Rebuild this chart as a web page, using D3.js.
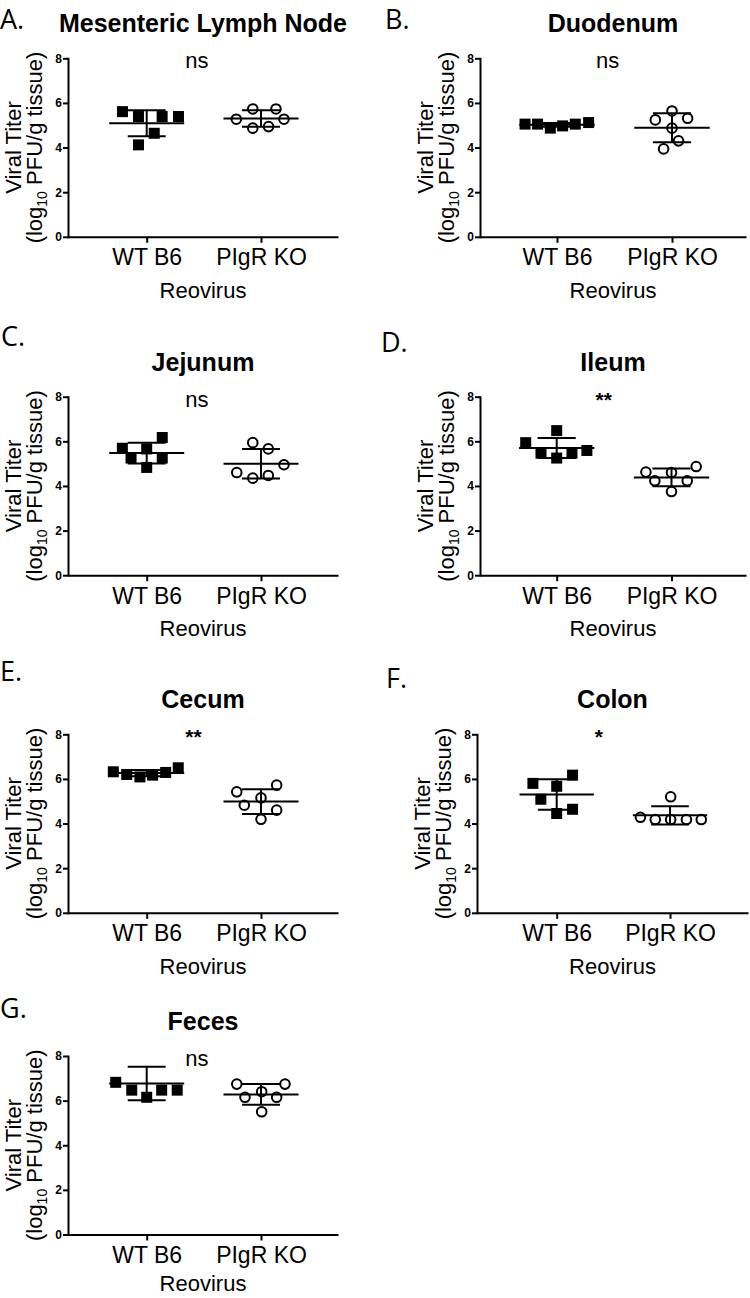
<!DOCTYPE html>
<html><head><meta charset="utf-8">
<script src="https://cdn.jsdelivr.net/npm/d3@7"></script>
<style>
body{margin:0;background:#fff}
svg{display:block}
</style>
</head><body><svg id="chart" width="750" height="1298"></svg>
<script>
// ---------------- DATA ----------------
const categories = ["WT B6", "PIgR KO"];
const panelLetters = ["A.", "B.", "C.", "D.", "E.", "F.", "G."];
const panelTitles = ["Mesenteric Lymph Node", "Duodenum", "Jejunum", "Ileum", "Cecum", "Colon", "Feces"];
const significance = ["ns", "ns", "ns", "**", "**", "*", "ns"];
const yTicks = [0, 2, 4, 6, 8];
const yTitleLine1 = "Viral Titer";
const yTitleLine2 = ["(log", "10", " PFU/g tissue)"];
const xTitle = "Reovirus";

// log10 PFU/g tissue, per mouse (left-to-right order as plotted)
const mlnWT = [5.61, 5.39, 4.12, 4.64, 5.39, 5.39];
const mlnKO = [5.27, 5.73, 4.87, 4.94, 5.73, 5.27];
const duoWT = [5.05, 5.05, 4.87, 4.97, 5.05, 5.12];
const duoKO = [5.24, 3.94, 5.64, 4.87, 4.30, 5.31];
const jejWT = [5.69, 5.25, 5.66, 4.83, 6.17, 5.25];
const jejKO = [4.60, 5.94, 4.35, 5.66, 4.47, 4.95];
const ileWT = [5.94, 5.47, 6.48, 5.25, 5.47, 5.59];
const ileKO = [4.62, 4.23, 4.60, 3.75, 4.23, 4.87];
const cecWT = [6.32, 6.20, 6.09, 6.17, 6.29, 6.50];
const cecKO = [5.42, 4.82, 5.15, 4.19, 5.72, 4.60];
const colWT = [5.80, 5.09, 5.67, 4.45, 6.17, 4.64];
const colKO = [4.28, 4.18, 5.20, 4.18, 4.18, 4.18];
const fecWT = [6.82, 6.47, 6.15, 6.47, 6.47, 8.24]; // last point lies above the axis maximum (not shown)
const fecKO = [6.74, 6.15, 6.40, 5.50, 6.15, 6.74];

// horizontal scatter of each dot within its column (category units)
const mlnWTSpread = [-0.212, -0.072, -0.072, 0.066, 0.135, 0.278];
const mlnKOSpread = [-0.216, -0.072, -0.072, 0.066, 0.131, 0.201];
const duoWTSpread = [-0.278, -0.169, -0.058, 0.049, 0.159, 0.275];
const duoKOSpread = [-0.145, -0.073, 0, 0, 0.057, 0.136];
const jejWTSpread = [-0.213, -0.137, 0, 0, 0.136, 0.136];
const jejKOSpread = [-0.212, -0.072, -0.072, 0.064, 0.064, 0.201];
const ileWTSpread = [-0.27, -0.137, 0, 0, 0.133, 0.263];
const ileKOSpread = [-0.223, -0.145, 0, 0, 0.137, 0.215];
const cecWTSpread = [-0.292, -0.175, -0.059, 0.052, 0.166, 0.276];
const cecKOSpread = [-0.212, -0.146, 0, 0, 0.137, 0.137];
const colWTSpread = [-0.21, -0.14, 0, 0, 0.14, 0.14];
const colKOSpread = [-0.261, -0.13, 0.006, 0.006, 0.145, 0.276];
const fecWTSpread = [-0.271, -0.131, 0, 0.131, 0.267, 0];
const fecKOSpread = [-0.212, -0.14, 0.006, 0.006, 0.137, 0.21];

const panelValues = [[mlnWT, mlnKO], [duoWT, duoKO], [jejWT, jejKO], [ileWT, ileKO], [cecWT, cecKO], [colWT, colKO], [fecWT, fecKO]];
const panelSpread = [[mlnWTSpread, mlnKOSpread], [duoWTSpread, duoKOSpread], [jejWTSpread, jejKOSpread], [ileWTSpread, ileKOSpread], [cecWTSpread, cecKOSpread], [colWTSpread, colKOSpread], [fecWTSpread, fecKOSpread]];

// ---------------- LAYOUT ----------------
const layout = [
  {cx0: 146.7, cx1: 261,   axisX: 68,    endX: 338, top: 58.3,  lx: 0,   ly: 29},
  {cx0: 557,   cx1: 672,   axisX: 480,   endX: 746, top: 58.3,  lx: 385, ly: 29},
  {cx0: 146.7, cx1: 261,   axisX: 68,    endX: 338, top: 396.7, lx: 1,   ly: 346},
  {cx0: 556.7, cx1: 671.5, axisX: 480,   endX: 746, top: 396.7, lx: 381, ly: 352},
  {cx0: 146.7, cx1: 261,   axisX: 68,    endX: 338, top: 734.3, lx: 0,   ly: 681},
  {cx0: 556.7, cx1: 670,   axisX: 477,   endX: 748, top: 734.3, lx: 386, ly: 688},
  {cx0: 146.7, cx1: 261,   axisX: 68,    endX: 338, top: 1056,  lx: 0,   ly: 1018}
];
const plotH = 178.5;
const FONT = "'Liberation Sans', Arial, Helvetica, sans-serif";

const svg = d3.select("#chart");

layout.forEach((L, p) => {
  const g = svg.append("g");
  const bottom = L.top + plotH;
  const y = d3.scaleLinear().domain([0, 8]).range([bottom, L.top]);
  const x = d3.scaleLinear().domain([0, 1]).range([L.cx0, L.cx1]);
  const xa = d3.scaleLinear().domain([x.invert(L.axisX), x.invert(L.endX)]).range([L.axisX, L.endX]);

  // panel letter
  g.append("text").attr("x", L.lx).attr("y", L.ly)
    .attr("font-family", "'Open Sans', 'Noto Sans', sans-serif").attr("font-size", 27)
    .text(panelLetters[p]);

  // title
  g.append("text").attr("x", (L.axisX + L.endX) / 2).attr("y", L.top - 26)
    .attr("text-anchor", "middle").attr("font-family", FONT).attr("font-weight", "bold")
    .attr("font-size", 25).text(panelTitles[p]);

  // y axis
  const yAx = g.append("g").attr("transform", `translate(${L.axisX},0)`)
    .call(d3.axisLeft(y).tickValues(yTicks).tickSize(5).tickSizeOuter(0).tickPadding(1));
  yAx.attr("font-family", FONT).attr("font-size", 12);
  yAx.selectAll("text").attr("font-weight", "bold").attr("fill", "#000");
  yAx.selectAll("path,line").attr("stroke", "#000").attr("stroke-width", 2);
  yAx.select("path").attr("stroke-linecap", "square");

  // x axis
  const xAx = g.append("g").attr("transform", `translate(0,${bottom})`)
    .call(d3.axisBottom(xa).tickValues([0, 1]).tickFormat(i => categories[i]).tickSize(6).tickSizeOuter(0).tickPadding(6));
  xAx.attr("font-family", FONT).attr("font-size", 23);
  xAx.selectAll("text").attr("fill", "#000");
  xAx.selectAll("path,line").attr("stroke", "#000").attr("stroke-width", 2);

  // y title
  const yMid = (L.top + bottom) / 2;
  g.append("text").attr("transform", `translate(${L.axisX - 47},${yMid}) rotate(-90)`)
    .attr("text-anchor", "middle").attr("font-family", FONT).attr("font-size", 22)
    .text(yTitleLine1);
  const t2 = g.append("text").attr("transform", `translate(${L.axisX - 26},${yMid}) rotate(-90)`)
    .attr("text-anchor", "middle").attr("font-family", FONT).attr("font-size", 22);
  t2.append("tspan").text(yTitleLine2[0]);
  t2.append("tspan").attr("font-size", 14).attr("dy", 5).text(yTitleLine2[1]);
  t2.append("tspan").attr("dy", -5).text(yTitleLine2[2]);

  // x title
  g.append("text").attr("x", (L.axisX + L.endX) / 2).attr("y", Math.min(bottom + 61, 1291))
    .attr("text-anchor", "middle").attr("font-family", FONT).attr("font-size", 22)
    .text(xTitle);

  // significance
  const sig = significance[p];
  g.append("text").attr("x", (x(0) + x(1)) / 2 - 18.5).attr("y", L.top + 10)
    .attr("font-family", FONT).attr("font-size", sig === "ns" ? 22 : 21)
    .attr("font-weight", sig === "ns" ? "normal" : "bold")
    .text(sig);

  // points
  [0, 1].forEach(c => {
    const vals = panelValues[p][c];
    const spread = panelSpread[p][c];
    const pts = vals.map((v, i) => ({v, s: spread[i]})).filter(d => d.v <= 8);
    if (c === 0) {
      g.selectAll(null).data(pts).enter().append("rect")
        .attr("x", d => x(c + d.s) - 5.5).attr("y", d => y(d.v) - 5.5)
        .attr("width", 11).attr("height", 11).attr("fill", "#000");
    } else {
      g.selectAll(null).data(pts).enter().append("circle")
        .attr("cx", d => x(c + d.s)).attr("cy", d => y(d.v)).attr("r", 4.8)
        .attr("fill", "#fff").attr("stroke", "#000").attr("stroke-width", 2);
    }
  });

  // mean +/- SD
  [0, 1].forEach(c => {
    const vals = panelValues[p][c];
    const m = d3.mean(vals), sd = d3.deviation(vals);
    const bars = [
      {x1: c - 0.328, x2: c + 0.328, y1: m, y2: m},
      {x1: c - 0.166, x2: c + 0.166, y1: m + sd, y2: m + sd},
      {x1: c - 0.166, x2: c + 0.166, y1: m - sd, y2: m - sd},
      {x1: c, x2: c, y1: m - sd, y2: m + sd}
    ];
    g.selectAll(null).data(bars).enter().append("line")
      .attr("x1", d => x(d.x1)).attr("x2", d => x(d.x2))
      .attr("y1", d => y(d.y1)).attr("y2", d => y(d.y2))
      .attr("stroke", "#000").attr("stroke-width", 2);
  });
});
</script>
</body></html>
